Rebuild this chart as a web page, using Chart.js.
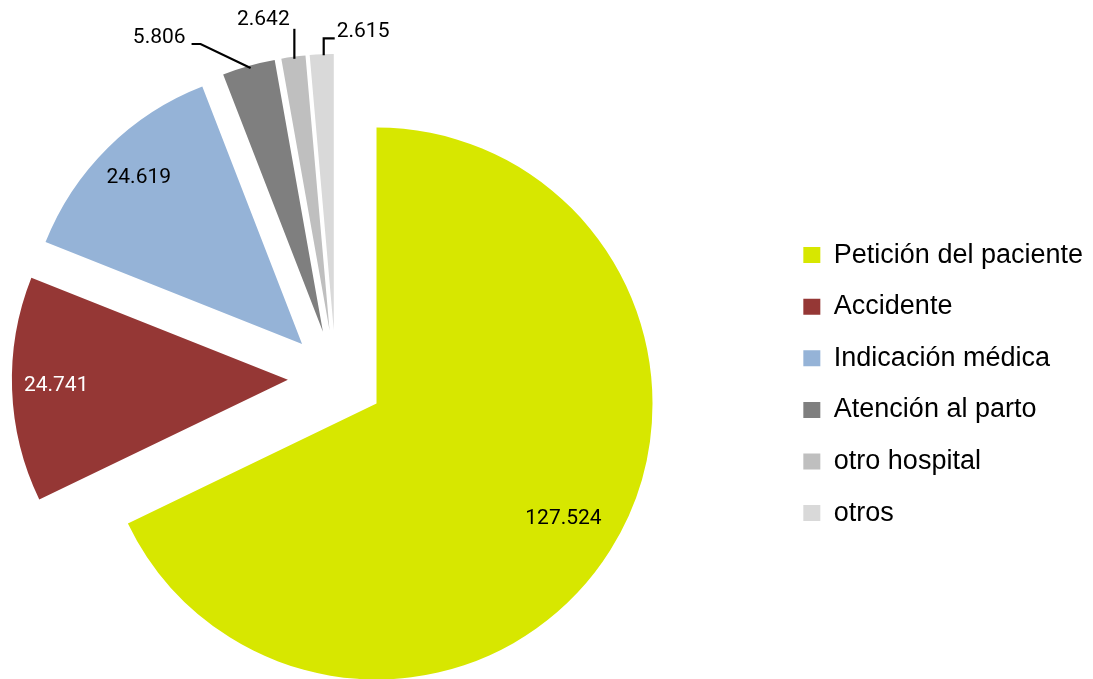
<!DOCTYPE html>
<html>
<head>
<meta charset="utf-8">
<title>Motivo del traslado</title>
<script src="https://cdn.jsdelivr.net/npm/chart.js@4.4.0/dist/chart.umd.min.js"></script>
<style>
  html, body { margin: 0; padding: 0; background: #fff; overflow: hidden; }
  /* the canvas is wider than the window so the pie sits left of centre */
  #chart { display: block; margin-left: -107px; }
</style>
</head>
<body>
<canvas id="chart" width="1200" height="679"></canvas>
<script>
var categories = ['Petición del paciente', 'Accidente', 'Indicación médica', 'Atención al parto', 'otro hospital', 'otros'];
var values = [127524, 24741, 24619, 5806, 2642, 2615];
var colors = ['#D7E700', '#953735', '#95B3D7', '#7F7F7F', '#BFBFBF', '#D9D9D9'];
var labelColors = ['#000', '#fff', '#000', '#000', '#000', '#000'];

// 127524 -> "127.524"
function formatValue(v) {
    return String(v).replace(/\B(?=(\d{3})+(?!\d))/g, '.');
}

// every slice pulled out of the pie along its bisector
var explodePlugin = {
    id: 'explode',
    beforeDatasetDraw: function (chart, args, opts) {
        var ctx = chart.ctx;
        args.meta.data.forEach(function (arc) {
            var mid = (arc.startAngle + arc.endAngle) / 2;
            ctx.save();
            ctx.translate(Math.cos(mid) * opts.distance, Math.sin(mid) * opts.distance);
            arc.draw(ctx);
            ctx.restore();
        });
        return false;
    }
};

// value labels, inside the big slices and with leader lines for the thin ones
var sliceLabelsPlugin = {
    id: 'sliceLabels',
    afterDatasetsDraw: function (chart, args, opts) {
        var ctx = chart.ctx;
        var dist = chart.options.plugins.explode.distance;
        var meta = chart.getDatasetMeta(0);
        ctx.save();
        ctx.font = opts.font;
        ctx.textBaseline = 'middle';
        meta.data.forEach(function (arc, i) {
            var mid = (arc.startAngle + arc.endAngle) / 2;
            var cx = arc.x + Math.cos(mid) * dist;
            var cy = arc.y + Math.sin(mid) * dist;
            var text = formatValue(values[i]);
            var callout = opts.callouts[i];
            if (!callout) {
                var r = arc.outerRadius * opts.inside[i];
                ctx.fillStyle = labelColors[i];
                ctx.textAlign = 'center';
                ctx.fillText(text, cx + Math.cos(mid) * r, cy + Math.sin(mid) * r - 2);
                return;
            }
            var ex = cx + Math.cos(mid) * arc.outerRadius;
            var ey = cy + Math.sin(mid) * arc.outerRadius;
            ctx.strokeStyle = '#000';
            ctx.lineWidth = 2.2;
            ctx.beginPath();
            callout.line.forEach(function (p, k) {
                if (k == 0) ctx.moveTo(ex + p[0], ey + p[1]);
                else ctx.lineTo(ex + p[0], ey + p[1]);
            });
            ctx.stroke();
            ctx.fillStyle = labelColors[i];
            ctx.textAlign = callout.align;
            ctx.fillText(text, ex + callout.text[0], ey + callout.text[1]);
        });
        ctx.restore();
    }
};

new Chart(document.getElementById('chart').getContext('2d'), {
    type: 'pie',
    data: {
        labels: categories,
        datasets: [{
            data: values,
            backgroundColor: colors,
            borderWidth: 0,
            offset: 0,
            hoverOffset: 0
        }]
    },
    options: {
        responsive: false,
        animation: false,
        events: [],
        layout: {
            padding: { left: 0, right: 0, top: 102, bottom: 25 }
        },
        plugins: {
            legend: {
                position: 'right',
                // empty title only to push the entries down a little
                title: { display: true, text: '', padding: { top: 11, bottom: 0 }, font: { size: 1 } },
                labels: {
                    boxWidth: 17,
                    boxHeight: 16,
                    padding: 24.6,
                    color: '#000',
                    font: { family: 'Liberation Sans', size: 27 }
                }
            },
            tooltip: { enabled: false },
            explode: { distance: 48 },
            sliceLabels: {
                font: '21px Roboto',
                inside: [0.8, 0.84, 0.84],
                callouts: {
                    3: { line: [[2, 2], [-48, -22], [-57, -22]], text: [-63, -28], align: 'right' },
                    4: { line: [[1, 2], [1, -28]], text: [-30, -37], align: 'center' },
                    5: { line: [[2, 1], [2, -16], [13, -16]], text: [15, -23], align: 'left' }
                }
            }
        }
    },
    plugins: [explodePlugin, sliceLabelsPlugin]
});
</script>
</body>
</html>
